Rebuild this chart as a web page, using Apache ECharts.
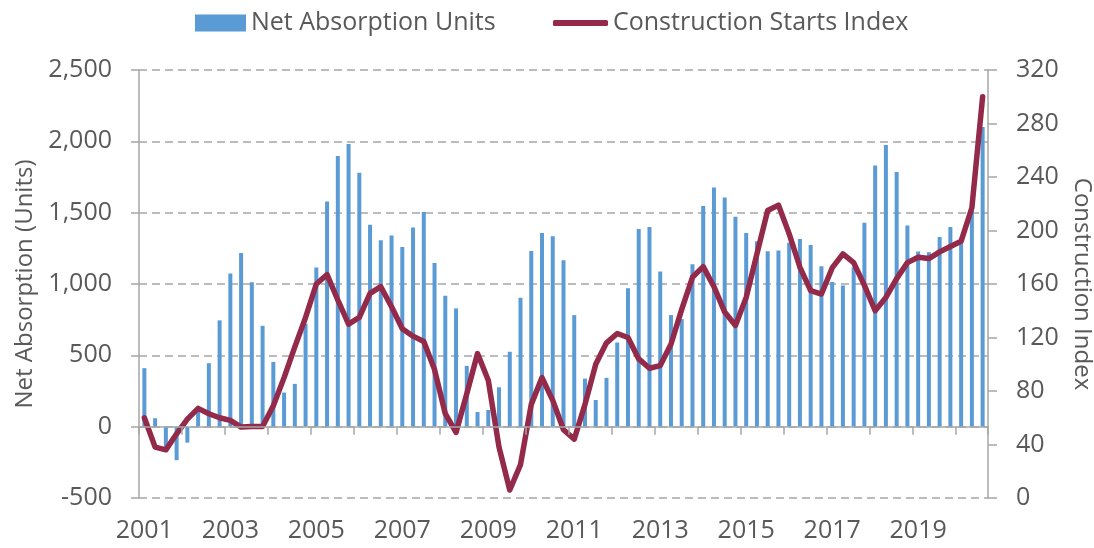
<!DOCTYPE html>
<html>
<head>
<meta charset="utf-8">
<script src="https://cdn.jsdelivr.net/npm/echarts@6/dist/echarts.min.js"></script>
<style>
html,body{margin:0;padding:0;background:#fff;}
#chart{width:1094px;height:548px;}
</style>
</head>
<body>
<div id="chart"></div>
<script>
const years = [2001,2002,2003,2004,2005,2006,2007,2008,2009,2010,2011,2012,2013,2014,2015,2016,2017,2018,2019,2020];
const quarters = ['Q1','Q2','Q3','Q4'];
const netAbsorption = [
  410, 59, -140, -235, -112, 112, 445, 745, 1073, 1218,
  1012, 707, 454, 239, 300, 721, 1115, 1578, 1897, 1981,
  1780, 1415, 1307, 1340, 1260, 1396, 1504, 1148, 918, 829,
  426, 103, 117, 276, 525, 904, 1232, 1358, 1335, 1166,
  782, 337, 187, 342, 590, 970, 1386, 1400, 1087, 782,
  754, 1138, 1546, 1677, 1607, 1471, 1358, 1300, 1230, 1234,
  1290, 1316, 1274, 1124, 1014, 990, 1117, 1429, 1831, 1974,
  1785, 1410, 1227, 1223, 1330, 1400, 1300, 1520, 2100
];
const constructionIndex = [
  60, 38, 36, 48, 59, 67, 63, 60, 58, 53,
  53.5, 53.5, 69, 90, 113, 135, 160, 167, 148, 130,
  135, 153, 158, 143, 126.5, 121, 117, 96, 63, 49,
  78, 108, 88, 38, 6, 25, 70, 90, 73, 51,
  44, 70, 100, 116, 123, 120, 104, 97, 99, 115,
  141, 165, 173, 158, 139, 129, 150, 182.5, 215, 219,
  197.5, 172.5, 155, 152.5, 172, 182.5, 176, 159, 140, 150,
  164, 176, 180, 179, 184, 188, 192, 217, 300
];
const leftTicks = {min: -500, max: 2500, interval: 500};
const rightTicks = {min: 0, max: 320, interval: 40};

const categories = [];
years.forEach(y => quarters.forEach(q => categories.push(y + q)));
categories.length = netAbsorption.length;

const font = 'Open Sans';
const txt = '#595959';
const axisGray = '#A6A6A6';

const gridTop = 70, gridBottom = 50, chartH = 548;
const plotH = chartH - gridTop - gridBottom;
// distance of the zero line above the bottom of the plot, from the left axis scale
const zeroOffset = plotH * (0 - leftTicks.min) / (leftTicks.max - leftTicks.min);

const chart = echarts.init(document.getElementById('chart'));
chart.setOption({
  animation: false,
  backgroundColor: '#fff',
  textStyle: {fontFamily: font},
  legend: [
    {
      data: ['Net Absorption Units'],
      left: 190, top: 5,
      icon: 'rect', itemWidth: 51, itemHeight: 17,
      textStyle: {fontFamily: font, fontSize: 25, color: txt, lineHeight: 26}
    },
    {
      data: ['Construction Starts Index'],
      left: 548, top: 5,
      icon: 'roundRect', itemWidth: 55, itemHeight: 6,
      textStyle: {fontFamily: font, fontSize: 25, color: txt, lineHeight: 26}
    }
  ],
  grid: {left: 139, right: 106, top: gridTop, bottom: gridBottom, containLabel: false, outerBoundsMode: 'none'},
  xAxis: [
    {
      type: 'category', data: categories, position: 'bottom', boundaryGap: true,
      axisLine: {show: false, onZero: false},
      axisTick: {show: false},
      axisLabel: {
        interval: 7, margin: 20,
        fontFamily: font, fontSize: 25, color: txt,
        formatter: v => v.slice(0, 4)
      },
      splitLine: {show: false}
    },
    {
      type: 'category', data: categories, position: 'bottom', boundaryGap: true,
      offset: -zeroOffset, z: 10,
      axisLine: {show: true, onZero: false, lineStyle: {color: axisGray, width: 1.5}},
      axisTick: {show: true, interval: 3, length: 8, lineStyle: {color: axisGray, width: 1.5}},
      axisLabel: {show: false},
      splitLine: {show: false}
    }
  ],
  yAxis: [
    {
      type: 'value', position: 'left',
      min: leftTicks.min, max: leftTicks.max, interval: leftTicks.interval,
      name: 'Net Absorption (Units)', nameLocation: 'middle', nameGap: 101,
      nameTextStyle: {fontFamily: font, fontSize: 24, color: txt},
      axisLine: {show: true, lineStyle: {color: axisGray, width: 1.5}},
      axisTick: {show: true, length: 8, lineStyle: {color: axisGray, width: 1.5}},
      axisLabel: {
        margin: 27, fontFamily: font, fontSize: 25, color: txt,
        formatter: v => v.toLocaleString('en-US')
      },
      splitLine: {show: true, lineStyle: {color: axisGray, width: 1.5, type: [8, 5]}}
    },
    {
      type: 'value', position: 'right',
      min: rightTicks.min, max: rightTicks.max, interval: rightTicks.interval,
      name: 'Construction Index', nameLocation: 'middle', nameGap: 74, nameRotate: -90,
      nameTextStyle: {fontFamily: font, fontSize: 24, color: txt},
      axisLine: {show: true, lineStyle: {color: axisGray, width: 1.5}},
      axisTick: {show: true, length: 9, lineStyle: {color: axisGray, width: 1.5}},
      axisLabel: {margin: 28, fontFamily: font, fontSize: 25, color: txt},
      splitLine: {show: false}
    }
  ],
  series: [
    {
      name: 'Net Absorption Units', type: 'bar', xAxisIndex: 0, yAxisIndex: 0,
      data: netAbsorption, barWidth: 4,
      itemStyle: {color: '#5B9BD5'}
    },
    {
      name: 'Construction Starts Index', type: 'line', xAxisIndex: 0, yAxisIndex: 1,
      data: constructionIndex, symbol: 'none', smooth: false,
      lineStyle: {color: '#932A4A', width: 5.5, cap: 'round', join: 'round'},
      itemStyle: {color: '#932A4A'},
      z: 5
    }
  ]
});
</script>
</body>
</html>
